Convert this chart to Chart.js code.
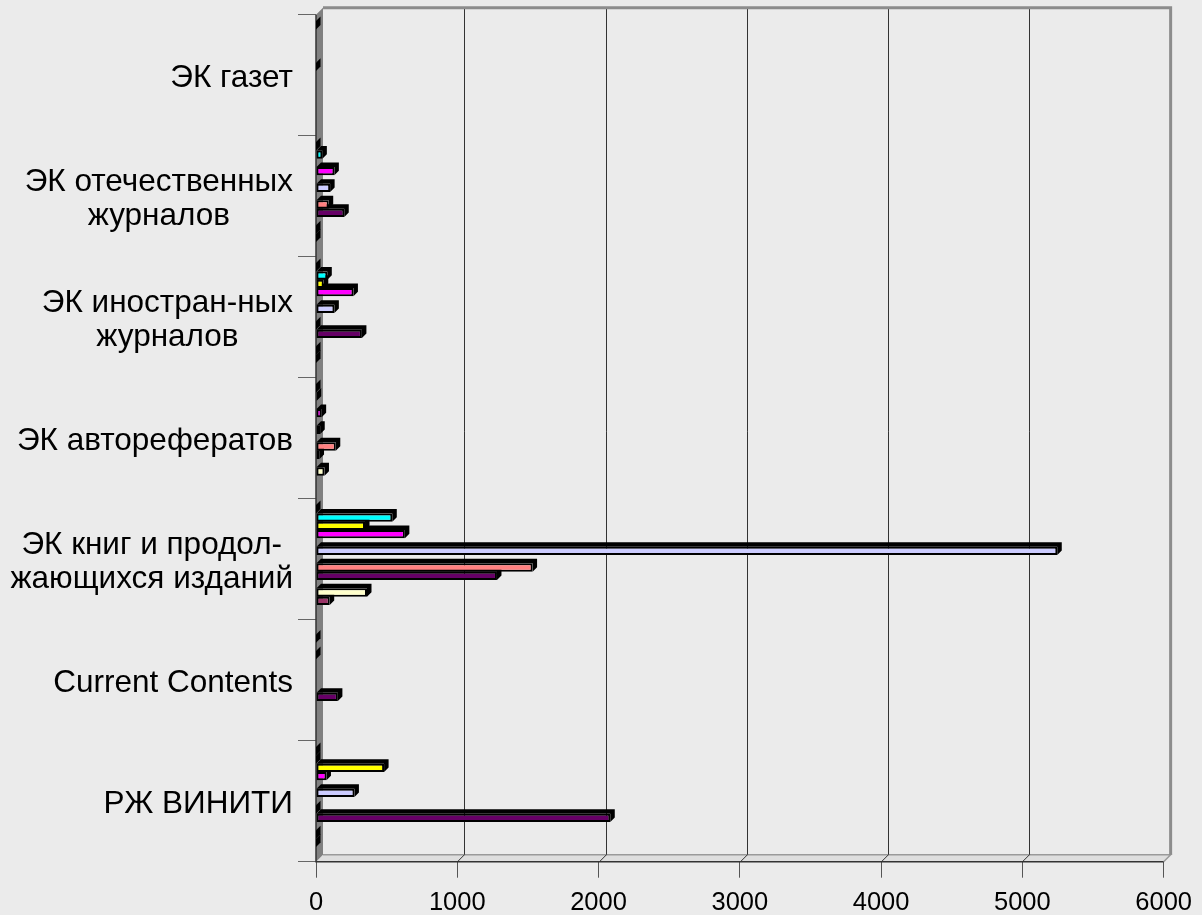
<!DOCTYPE html>
<html>
<head>
<meta charset="utf-8">
<script src="https://cdn.jsdelivr.net/npm/chart.js@4.4.1/dist/chart.umd.min.js"></script>
<style>
  html, body { margin: 0; padding: 0; background: #ebebeb; }
  #wrap { width: 1202px; height: 915px; }
</style>
</head>
<body>
<div id="wrap"><canvas id="graphCanvas"></canvas></div>
<script>
// categories, top to bottom as in the picture
let categories = [
  'ЭК газет',
  ['ЭК отечественных', 'журналов'],
  ['ЭК иностран-ных', 'журналов'],
  'ЭК авторефератов',
  ['ЭК книг и продол-', 'жающихся изданий'],
  'Current Contents',
  'РЖ ВИНИТИ'
];

let xTicks = [0, 1000, 2000, 3000, 4000, 5000, 6000];

// series in Excel order (series 1 = bottom bar of each group); null = empty cell
let ser1  = [null, null, null, null, null, null, null];
let ser2  = [null, 0, 0, null, 97, null, 0];
let ser3  = [null, 0, 0, 60, 361, null, 0];
let ser4  = [null, null, null, null, null, null, null];
let ser5  = [null, 200, 325, 25, 1281, 155, 2083];
let ser6  = [null, 90, 0, 140, 1533, null, 0];
let ser7  = [null, null, null, null, null, null, null];
let ser8  = [0, 100, 130, 30, 5247, null, 272];
let ser9  = [null, null, null, null, null, null, null];
let ser10 = [null, 130, 265, 40, 629, 0, 74];
let ser11 = [null, null, 55, null, 347, null, 482];
let ser12 = [null, 45, 80, 5, 540, 0, 0];
let ser13 = [0, 0, 0, 0, 0, null, 0];

let series = [ser1, ser2, ser3, ser4, ser5, ser6, ser7, ser8, ser9, ser10, ser11, ser12, ser13];
let colors = ['#9999FF', '#993366', '#FFFFCC', '#CCFFFF', '#660066', '#FF8080', '#0066CC',
              '#CCCCFF', '#000080', '#FF00FF', '#FFFF00', '#00FFFF', '#800080'];

const WALL = 7;      // depth of the walls
const BAR_D = 4.5;   // depth of a bar
const LABEL_FONT = "31.5px 'Liberation Sans', Arial, sans-serif";
const LABEL_LH = 34.5;

// Chart.js puts dataset 0 on top of the group, so feed the series reversed
let datasets = [];
for (let i = series.length - 1; i >= 0; i--) {
  datasets.push({
    label: 'Ряд' + (i + 1),
    data: series[i],
    backgroundColor: colors[i],
    borderColor: '#000000',
    borderWidth: 2,
    borderSkipped: false,
    categoryPercentage: 0.895,
    barPercentage: 1.0
  });
}

// 3d walls, back gridlines and bar depth
const frame3d = {
  id: 'frame3d',
  beforeDatasetsDraw(chart) {
    const ctx = chart.ctx;
    const a = chart.chartArea;
    const xs = chart.scales.x;
    ctx.save();

    // floor
    ctx.fillStyle = '#dedede';
    ctx.beginPath();
    ctx.moveTo(a.left, a.bottom);
    ctx.lineTo(a.left + WALL, a.bottom - WALL);
    ctx.lineTo(a.right + WALL, a.bottom - WALL);
    ctx.lineTo(a.right, a.bottom);
    ctx.closePath();
    ctx.fill();
    ctx.strokeStyle = '#9a9a9a';
    ctx.lineWidth = 1.5;
    ctx.beginPath();
    ctx.moveTo(a.left + WALL, a.bottom - WALL);
    ctx.lineTo(a.right + WALL, a.bottom - WALL);
    ctx.lineTo(a.right, a.bottom);
    ctx.stroke();

    // gridlines on the back wall
    ctx.strokeStyle = '#333333';
    ctx.lineWidth = 1;
    xTicks.forEach(function(v) {
      if (v === 0 || v === 6000) return;
      let px = Math.round(xs.getPixelForValue(v)) + 0.5;
      ctx.beginPath();
      ctx.moveTo(px, a.bottom);
      ctx.lineTo(px + WALL, a.bottom - WALL);
      ctx.lineTo(px + WALL, a.top - WALL);
      ctx.stroke();
    });

    // back wall top and right edges
    ctx.strokeStyle = '#8c8c8c';
    ctx.lineWidth = 3;
    ctx.beginPath();
    ctx.moveTo(a.left + WALL, a.top - WALL);
    ctx.lineTo(a.right + WALL, a.top - WALL);
    ctx.lineTo(a.right + WALL, a.bottom - WALL);
    ctx.stroke();

    // left wall
    ctx.fillStyle = '#808080';
    ctx.beginPath();
    ctx.moveTo(a.left, a.top);
    ctx.lineTo(a.left + WALL, a.top - WALL);
    ctx.lineTo(a.left + WALL, a.bottom - WALL);
    ctx.lineTo(a.left, a.bottom);
    ctx.closePath();
    ctx.fill();
    ctx.strokeStyle = '#333333';
    ctx.lineWidth = 1.5;
    ctx.beginPath();
    ctx.moveTo(a.left, a.top);
    ctx.lineTo(a.left, a.bottom);
    ctx.lineTo(a.right, a.bottom);
    ctx.stroke();

    // bar depth (top and right faces)
    ctx.fillStyle = '#000000';
    chart.data.datasets.forEach(function(ds, di) {
      let meta = chart.getDatasetMeta(di);
      meta.data.forEach(function(el, i) {
        if (ds.data[i] === null) return;
        let p = el.getProps(['x', 'y', 'base', 'height'], true);
        let x1 = Math.min(p.base, p.x), x2 = Math.max(p.base, p.x);
        let top = p.y - p.height / 2, bottom = p.y + p.height / 2;
        ctx.beginPath();
        ctx.moveTo(x1, top);
        ctx.lineTo(x1 + BAR_D, top - BAR_D);
        ctx.lineTo(x2 + BAR_D, top - BAR_D);
        ctx.lineTo(x2 + BAR_D, bottom - BAR_D);
        ctx.lineTo(x2, bottom);
        ctx.lineTo(x2, top);
        ctx.closePath();
        ctx.fill();
      });
    });
    ctx.restore();
  },
  // category labels: block right aligned, lines centred inside it
  afterDraw(chart) {
    const ctx = chart.ctx;
    const ys = chart.scales.y;
    ctx.save();
    ctx.font = LABEL_FONT;
    ctx.fillStyle = '#000000';
    ctx.textAlign = 'center';
    ctx.textBaseline = 'middle';
    categories.forEach(function(lab, i) {
      let lines = Array.isArray(lab) ? lab : [lab];
      let w = Math.max.apply(null, lines.map(function(l) { return ctx.measureText(l).width; }));
      let cx = ys.right - 18 - 5 - w / 2;
      let cy = ys.getPixelForTick(i) + 3;
      lines.forEach(function(l, j) {
        ctx.fillText(l, cx, cy + (j - (lines.length - 1) / 2) * LABEL_LH);
      });
    });
    ctx.restore();
  }
};

Chart.defaults.font.family = "'Liberation Sans', Arial, sans-serif";
Chart.defaults.color = '#000000';

let graphTarget = document.getElementById('graphCanvas');
let barGraph = new Chart(graphTarget, {
  type: 'bar',
  data: { labels: categories, datasets: datasets },
  plugins: [frame3d],
  options: {
    indexAxis: 'y',
    responsive: true,
    maintainAspectRatio: false,
    animation: false,
    layout: { padding: { top: 14.7, right: 31, bottom: 0, left: 0 } },
    plugins: { legend: { display: false }, tooltip: { enabled: false } },
    scales: {
      x: {
        min: 0,
        max: 6000,
        afterBuildTicks: function(scale) {
          scale.ticks = xTicks.map(function(v) { return { value: v }; });
        },
        afterFit: function(scale) { scale.height = 53.3; },
        grid: { drawOnChartArea: false, drawTicks: true, tickLength: 16, color: '#555555' },
        border: { display: false },
        ticks: {
          font: { size: 25.5 },
          padding: 10,
          maxRotation: 0,
          callback: function(v) { return String(v); }
        }
      },
      y: {
        afterFit: function(scale) { scale.width = 316; },
        grid: { drawOnChartArea: false, drawTicks: true, tickLength: 18, color: '#666666' },
        border: { display: false },
        ticks: { display: false }
      }
    }
  }
});
</script>
</body>
</html>
